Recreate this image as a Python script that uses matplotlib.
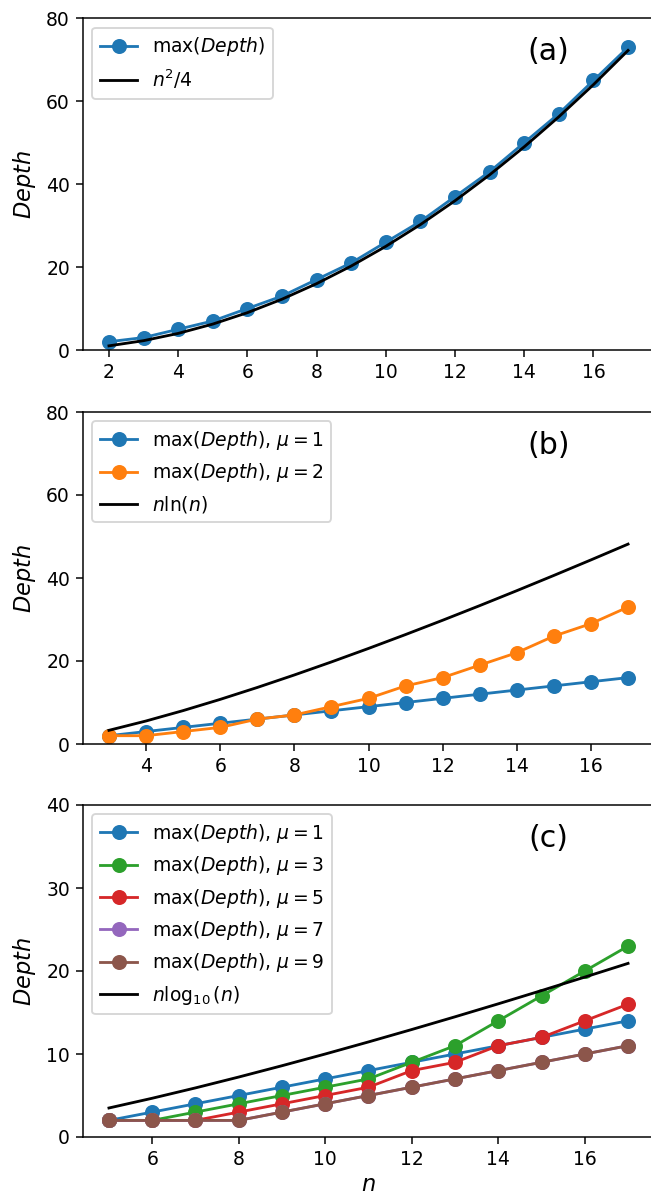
import numpy as np
import matplotlib
matplotlib.use("Agg")
import matplotlib.pyplot as plt

# Panel (a)
n_a = [2, 3, 4, 5, 6, 7, 8, 9, 10, 11, 12, 13, 14, 15, 16, 17]
depth_a = [2, 3, 5, 7, 10, 13, 17, 21, 26, 31, 37, 43, 50, 57, 65, 73]

# Panel (b)
n_b = [3, 4, 5, 6, 7, 8, 9, 10, 11, 12, 13, 14, 15, 16, 17]
depth_b_mu1 = [2, 3, 4, 5, 6, 7, 8, 9, 10, 11, 12, 13, 14, 15, 16]
depth_b_mu2 = [2, 2, 3, 4, 6, 7, 9, 11, 14, 16, 19, 22, 26, 29, 33]

# Panel (c)
n_c = [5, 6, 7, 8, 9, 10, 11, 12, 13, 14, 15, 16, 17]
depth_c_mu1 = [2, 3, 4, 5, 6, 7, 8, 9, 10, 11, 12, 13, 14]
depth_c_mu3 = [2, 2, 3, 4, 5, 6, 7, 9, 11, 14, 17, 20, 23]
depth_c_mu5 = [2, 2, 2, 3, 4, 5, 6, 8, 9, 11, 12, 14, 16]
depth_c_mu7 = [2, 2, 2, 2, 3, 4, 5, 6, 7, 8, 9, 10, 11]
depth_c_mu9 = [2, 2, 2, 2, 3, 4, 5, 6, 7, 8, 9, 10, 11]

DPI = 135
plt.rcParams['lines.markersize'] = 7
fig = plt.figure(figsize=(651 / DPI, 1194 / DPI), dpi=DPI)
W, H = 651.0, 1194.0
left, right = 83, 654

def make_ax(top, bottom):
    return fig.add_axes([left / W, 1 - bottom / H, (right - left) / W, (bottom - top) / H])

ax1 = make_ax(18.3, 350)
ax2 = make_ax(412, 744)
ax3 = make_ax(805, 1137)

lx, ly = 0.815, 0.9

# (a)
na = np.array(n_a)
ax1.plot(na, depth_a, 'o-', color='C0', label=r'max$(Depth)$')
ax1.plot(na, na ** 2 / 4, '-', color='k', label=r'$n^2/4$')
ax1.set_ylim(0, 80)
ax1.set_yticks([0, 20, 40, 60, 80])
ax1.set_xticks([2, 4, 6, 8, 10, 12, 14, 16])
ax1.set_ylabel(r'$Depth$', fontsize=12)
ax1.legend(loc='upper left')
ax1.text(lx, ly, '(a)', transform=ax1.transAxes, fontsize=16, ha='center', va='center')

# (b)
nb = np.array(n_b)
ax2.plot(nb, depth_b_mu1, 'o-', color='C0', label=r'max$(Depth)$, $\mu=1$')
ax2.plot(nb, depth_b_mu2, 'o-', color='C1', label=r'max$(Depth)$, $\mu=2$')
ax2.plot(nb, nb * np.log(nb), '-', color='k', label=r'$n\ln(n)$')
ax2.set_ylim(0, 80)
ax2.set_yticks([0, 20, 40, 60, 80])
ax2.set_xticks([4, 6, 8, 10, 12, 14, 16])
ax2.set_ylabel(r'$Depth$', fontsize=12)
ax2.legend(loc='upper left')
ax2.text(lx, ly, '(b)', transform=ax2.transAxes, fontsize=16, ha='center', va='center')

# (c)
nc = np.array(n_c)
ax3.plot(nc, depth_c_mu1, 'o-', color='C0', label=r'max$(Depth)$, $\mu=1$')
ax3.plot(nc, depth_c_mu3, 'o-', color='C2', label=r'max$(Depth)$, $\mu=3$')
ax3.plot(nc, depth_c_mu5, 'o-', color='C3', label=r'max$(Depth)$, $\mu=5$')
ax3.plot(nc, depth_c_mu7, 'o-', color='C4', label=r'max$(Depth)$, $\mu=7$')
ax3.plot(nc, depth_c_mu9, 'o-', color='C5', label=r'max$(Depth)$, $\mu=9$')
ax3.plot(nc, nc * np.log10(nc), '-', color='k', label=r'$n\log_{10}(n)$')
ax3.set_ylim(0, 40)
ax3.set_yticks([0, 10, 20, 30, 40])
ax3.set_xticks([6, 8, 10, 12, 14, 16])
ax3.set_ylabel(r'$Depth$', fontsize=12)
ax3.set_xlabel(r'$n$', fontsize=12, labelpad=2)
ax3.legend(loc='upper left')
ax3.text(lx, ly, '(c)', transform=ax3.transAxes, fontsize=16, ha='center', va='center')

fig.savefig('out.png', dpi=DPI)
